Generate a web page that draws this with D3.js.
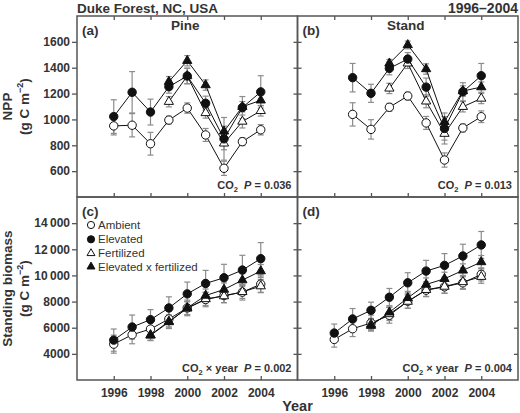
<!DOCTYPE html>
<html>
<head>
<meta charset="utf-8">
<script src="https://cdn.jsdelivr.net/npm/d3@7"></script>
<style>
body { margin: 0; background: #fff; }
svg text { font-family: "Liberation Sans", Arial, sans-serif; fill: #333; }
</style>
</head>
<body>
<div id="chart"></div>
<script>
var W = 520;
var H = 413;

var YEARS = [1996, 1997, 1998, 1999, 2000, 2001, 2002, 2003, 2004];
var X_TICKS = [1996, 1998, 2000, 2002, 2004];
var NPP_TICKS = [600, 800, 1000, 1200, 1400, 1600];
var BIO_TICKS = [4000, 6000, 8000, 10000, 12000, 14000];
var SERIES = ["Ambient", "Elevated", "Fertilized", "Elevated x fertilized"];

// (a) NPP, pine
var pineAmb = [950, 955, 812, 995, 1088, 880, 622, 828, 920];
var pineAmbSe = [70, 90, 88, 30, 40, 50, 55, 30, 40];
var pineEle = [1022, 1210, 1057, 1253, 1336, 1125, 850, 1092, 1213];
var pineEleSe = [130, 160, 100, 50, 60, 55, 165, 85, 125];
var pineFert = [null, null, null, 1137, 1336, 1050, 815, 984, 1066];
var pineFertSe = [null, null, null, 40, 60, 40, 50, 50, 40];
var pineEF = [null, null, null, 1292, 1454, 1266, 908, 1098, 1148];
var pineEFSe = [null, null, null, 40, 40, 40, 40, 40, 40];

// (b) NPP, stand
var standAmb = [null, 1039, 923, 1094, 1181, 973, 686, 934, 1021];
var standAmbSe = [null, 90, 75, 30, 30, 50, 55, 30, 45];
var standEle = [null, 1323, 1202, 1395, 1467, 1250, 930, 1214, 1338];
var standEleSe = [null, 110, 70, 50, 50, 70, 120, 70, 95];
var standFert = [null, null, null, 1240, 1434, 1140, 890, 1098, 1162];
var standFertSe = [null, null, null, 40, 40, 50, 50, 40, 40];
var standEF = [null, null, null, 1434, 1576, 1390, 982, 1220, 1250];
var standEFSe = [null, null, null, 30, 30, 40, 40, 40, 40];

// (c) standing biomass, pine
var pbAmb = [4744, 5462, 5897, 6667, 7513, 8154, 8462, 8718, 9333];
var pbAmbSe = [690, 690, 650, 600, 600, 550, 550, 600, 620];
var pbEle = [5051, 6051, 6615, 7513, 8590, 9385, 9821, 10410, 11282];
var pbEleSe = [850, 920, 770, 850, 900, 1000, 1030, 1130, 1230];
var pbFert = [null, null, 5450, 6480, 7480, 8200, 8420, 8740, 9180];
var pbFertSe = [null, null, 400, 500, 500, 500, 500, 500, 500];
var pbEF = [null, null, 5410, 6436, 7513, 8462, 8923, 9641, 10333];
var pbEFSe = [null, null, 400, 500, 500, 500, 500, 500, 500];

// (d) standing biomass, stand
var sbAmb = [5103, 5923, 6359, 6949, 8026, 8872, 9128, 9436, 10077];
var sbAmbSe = [590, 600, 600, 600, 550, 500, 500, 500, 500];
var sbEle = [5590, 6667, 7333, 8333, 9436, 10333, 10769, 11487, 12333];
var sbEleSe = [690, 800, 620, 670, 770, 820, 900, 900, 1030];
var sbFert = [null, null, 6250, 7050, 8000, 8900, 9150, 9500, 9900];
var sbFertSe = [null, null, 400, 500, 500, 500, 500, 500, 500];
var sbEF = [null, null, 6154, 7180, 8282, 9308, 9744, 10385, 11026];
var sbEFSe = [null, null, 400, 500, 500, 500, 500, 500, 500];

var LEFT = 77, MID = 297.5, RIGHT = 518;
var TOP = 16, SPLIT = 197, BOTTOM = 380;

var panels = [
    { label: "(a)", title: "Pine", stat: "co2", p: "0.036", col: 0, row: 0,
      series: [[pineAmb, pineAmbSe], [pineEle, pineEleSe], [pineFert, pineFertSe], [pineEF, pineEFSe]] },
    { label: "(b)", title: "Stand", stat: "co2", p: "0.013", col: 1, row: 0,
      series: [[standAmb, standAmbSe], [standEle, standEleSe], [standFert, standFertSe], [standEF, standEFSe]] },
    { label: "(c)", title: "", stat: "year", p: "0.002", col: 0, row: 1,
      series: [[pbAmb, pbAmbSe], [pbEle, pbEleSe], [pbFert, pbFertSe], [pbEF, pbEFSe]] },
    { label: "(d)", title: "", stat: "year", p: "0.004", col: 1, row: 1,
      series: [[sbAmb, sbAmbSe], [sbEle, sbEleSe], [sbFert, sbFertSe], [sbEF, sbEFSe]] }
];

function bioFormat(d) {
    if (d >= 10000) return Math.floor(d / 1000) + "\u2009" + "000";
    return String(d);
}

function drawMarker(sel, kind, r) {
    var filled = (kind === 1 || kind === 3);
    var m;
    if (kind < 2) {
        m = sel.append("circle").attr("r", r);
    } else {
        // triangle roughly as wide as the circle
        m = sel.append("path")
            .attr("d", d3.symbol(d3.symbolTriangle, r * r * 2.1)());
    }
    m.attr("fill", filled ? "#111" : "#fff")
        .attr("stroke", "#111")
        .attr("stroke-width", 1);
    return m;
}

function drawPanel(svg, panel) {
    var x0 = panel.col === 0 ? LEFT : MID;
    var x1 = panel.col === 0 ? MID : RIGHT;
    var y0 = panel.row === 0 ? TOP : SPLIT;
    var y1 = panel.row === 0 ? SPLIT : BOTTOM;
    var x = d3.scaleLinear().domain([1994, 2006]).range([x0, x1]);
    var y = panel.row === 0
        ? d3.scaleLinear().domain([400, 1800]).range([y1, y0])
        : d3.scaleLinear().domain([2000, 16000]).range([y1, y0]);
    var yTicks = panel.row === 0 ? NPP_TICKS : BIO_TICKS;
    var g = svg.append("g");

    // y ticks
    if (panel.col === 0) {
        var ya = g.append("g").attr("transform", "translate(" + x0 + ",0)")
            .call(d3.axisLeft(y).tickValues(yTicks).tickSize(5).tickPadding(2)
                .tickFormat(panel.row === 0 ? d3.format("d") : bioFormat));
        ya.selectAll("text").attr("font-size", 12).attr("font-weight", "bold").attr("fill", "#333");
        g.append("g").attr("transform", "translate(" + x1 + ",0)")
            .call(d3.axisLeft(y).tickValues(yTicks).tickSize(4).tickFormat(""));
    } else {
        g.append("g").attr("transform", "translate(" + x0 + ",0)")
            .call(d3.axisRight(y).tickValues(yTicks).tickSize(4).tickFormat(""));
        g.append("g").attr("transform", "translate(" + x1 + ",0)")
            .call(d3.axisLeft(y).tickValues(yTicks).tickSize(4).tickFormat(""));
    }
    // x ticks
    if (panel.row === 0) {
        g.append("g").attr("transform", "translate(0," + y0 + ")")
            .call(d3.axisBottom(x).tickValues(X_TICKS).tickSize(4).tickFormat(""));
        g.append("g").attr("transform", "translate(0," + y1 + ")")
            .call(d3.axisTop(x).tickValues(X_TICKS).tickSize(4).tickFormat(""));
    } else {
        var xa = g.append("g").attr("transform", "translate(0," + y1 + ")")
            .call(d3.axisBottom(x).tickValues(X_TICKS).tickSizeInner(-4).tickSizeOuter(0)
                .tickPadding(8).tickFormat(d3.format("d")));
        xa.selectAll("text").attr("font-size", 12).attr("font-weight", "bold").attr("fill", "#333");
    }
    g.selectAll(".domain").remove();
    g.selectAll(".tick line").attr("stroke", "#555").attr("stroke-width", 1.3);

    // frame
    g.append("rect")
        .attr("x", x0).attr("y", y0)
        .attr("width", x1 - x0).attr("height", y1 - y0)
        .attr("fill", "none").attr("stroke", "#555").attr("stroke-width", 1.5);

    // error bars
    panel.series.forEach(function (s) {
        var pts = YEARS.map(function (yr, i) { return { year: yr, v: s[0][i], se: s[1][i] }; })
            .filter(function (d) { return d.v != null; });
        var eb = g.append("g").attr("stroke", "#8c8c8c").attr("stroke-width", 1.2);
        pts.forEach(function (d) {
            var xx = x(d.year);
            eb.append("line").attr("x1", xx).attr("x2", xx)
                .attr("y1", y(d.v - d.se)).attr("y2", y(d.v + d.se));
            [d.v - d.se, d.v + d.se].forEach(function (v) {
                eb.append("line").attr("x1", xx - 3).attr("x2", xx + 3)
                    .attr("y1", y(v)).attr("y2", y(v));
            });
        });
    });

    // lines and markers
    var order = [0, 2, 1, 3];
    order.forEach(function (k) {
        var s = panel.series[k];
        var pts = YEARS.map(function (yr, i) { return { year: yr, v: s[0][i] }; })
            .filter(function (d) { return d.v != null; });
        g.append("path").datum(pts)
            .attr("fill", "none").attr("stroke", "#111").attr("stroke-width", 1)
            .attr("d", d3.line().x(function (d) { return x(d.year); }).y(function (d) { return y(d.v); }));
        pts.forEach(function (d) {
            var mg = g.append("g").attr("transform", "translate(" + x(d.year) + "," + y(d.v) + ")");
            drawMarker(mg, k, 4.2);
        });
    });

    // labels
    g.append("text").attr("x", x0 + 5).attr("y", y0 + 19)
        .attr("font-size", 13.5).attr("font-weight", "bold").text(panel.label);
    if (panel.title) {
        g.append("text").attr("x", (x0 + x1) / 2 - 2).attr("y", y0 + 14)
            .attr("text-anchor", "middle")
            .attr("font-size", 13.5).attr("font-weight", "bold").text(panel.title);
    }
    var st = g.append("text").attr("x", x1 - 6).attr("y", y1 - 8)
        .attr("text-anchor", "end").attr("font-size", 11).attr("font-weight", "bold");
    st.append("tspan").text("CO");
    st.append("tspan").attr("font-size", 7.5).attr("dy", 3).text("2");
    if (panel.stat === "year") {
        st.append("tspan").attr("dy", -3).text("\u00a0\u00d7 year\u00a0\u00a0");
    } else {
        st.append("tspan").attr("dy", -3).text("\u00a0\u00a0");
    }
    st.append("tspan").attr("font-style", "italic").text("P");
    st.append("tspan").text("\u00a0= " + panel.p);

    return { x: x, y: y, x0: x0, y0: y0 };
}

function drawLegend(svg) {
    var lg = svg.append("g");
    var rows = [225, 239.3, 253.3, 266.7];
    SERIES.forEach(function (name, k) {
        var mg = lg.append("g").attr("transform", "translate(91," + rows[k] + ")");
        drawMarker(mg, k, 3.6);
        lg.append("text").attr("x", 98).attr("y", rows[k] + 4)
            .attr("font-size", 11.5).text(name);
    });
}

function drawChart() {
    var svg = d3.select("#chart").append("svg")
        .attr("width", W).attr("height", H);

    panels.forEach(function (p) { drawPanel(svg, p); });
    drawLegend(svg);

    svg.append("text").attr("x", LEFT).attr("y", 12.5)
        .attr("font-size", 13.5).attr("font-weight", "bold").text("Duke Forest, NC, USA");
    svg.append("text").attr("x", RIGHT).attr("y", 12.5).attr("text-anchor", "end")
        .attr("font-size", 14).attr("font-weight", "bold").text("1996\u20132004");

    // y axis titles
    function yTitle(name, cy) {
        svg.append("text")
            .attr("transform", "translate(12," + cy + ") rotate(-90)")
            .attr("text-anchor", "middle").attr("font-size", 13.5).attr("font-weight", "bold")
            .text(name);
        var t2 = svg.append("text")
            .attr("transform", "translate(29," + cy + ") rotate(-90)")
            .attr("text-anchor", "middle").attr("font-size", 13.5).attr("font-weight", "bold");
        t2.append("tspan").text("(g C m");
        t2.append("tspan").attr("font-size", 9).attr("dy", -6).text("\u22122");
        t2.append("tspan").attr("dy", 6).text(")");
    }
    yTitle("NPP", (TOP + SPLIT) / 2);
    yTitle("Standing biomass", (SPLIT + BOTTOM) / 2);

    svg.append("text").attr("x", MID).attr("y", 411)
        .attr("text-anchor", "middle").attr("font-size", 14.5).attr("font-weight", "bold")
        .text("Year");
}

drawChart();
</script>
</body>
</html>
